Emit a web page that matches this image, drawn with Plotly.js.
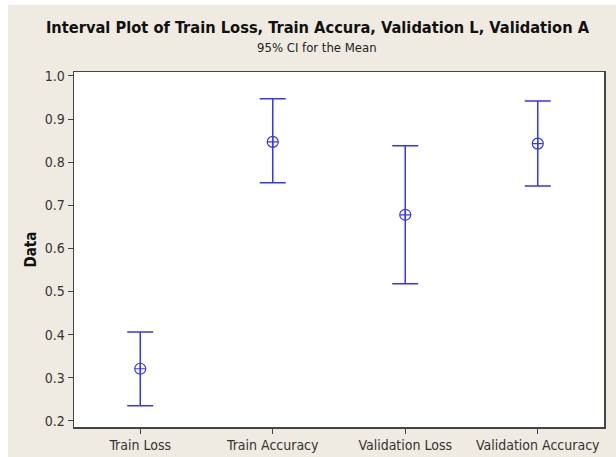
<!DOCTYPE html>
<html>
<head>
<meta charset="utf-8">
<script src="https://cdn.plot.ly/plotly-3.0.1.min.js"></script>
<style>
html,body{margin:0;padding:0;background:#ffffff;}
#chart{position:absolute;left:8px;top:5px;width:608px;height:452px;}
</style>
</head>
<body>
<div id="chart"></div>
<script>
const categories = ["Train Loss", "Train Accuracy", "Validation Loss", "Validation Accuracy"];
const means = [0.321, 0.847, 0.678, 0.843];
const upper = [0.406, 0.947, 0.838, 0.942];
const lower = [0.235, 0.752, 0.518, 0.745];
const yTicks = [0.2, 0.3, 0.4, 0.5, 0.6, 0.7, 0.8, 0.9, 1.0];
const yTickLabels = ["0.2", "0.3", "0.4", "0.5", "0.6", "0.7", "0.8", "0.9", "1.0"];

const blue = "#3434ff";
const trace = {
  x: categories.map((c, i) => i),
  y: means,
  type: "scatter",
  mode: "markers",
  marker: {symbol: "circle-cross-open", size: 11, color: blue, line: {width: 1.2, color: blue}},
  error_y: {
    type: "data",
    symmetric: false,
    array: upper.map((u, i) => u - means[i]),
    arrayminus: lower.map((l, i) => means[i] - l),
    color: blue,
    thickness: 1.5,
    width: 13
  },
  hoverinfo: "skip"
};

const layout = {
  width: 608,
  height: 452,
  paper_bgcolor: "#efebe2",
  plot_bgcolor: "#ffffff",
  margin: {l: 66, r: 12, t: 67, b: 30},
  showlegend: false,
  font: {family: "DejaVu Sans Condensed, sans-serif", color: "#333333"},
  title: {
    text: "<b>Interval Plot of Train Loss, Train Accura, Validation L, Validation A</b>",
    font: {family: "DejaVu Sans Condensed, sans-serif", size: 16.3, color: "#111111"},
    x: 0.509, xanchor: "center", xref: "container",
    y: 1, yref: "container", yanchor: "top", pad: {t: 17}
  },
  annotations: [{
    text: "95% CI for the Mean",
    xref: "paper", yref: "paper", x: 0.458, y: 1, yshift: 25,
    xanchor: "center", yanchor: "middle", showarrow: false,
    font: {family: "DejaVu Sans Condensed, sans-serif", size: 13, color: "#222222"}
  }],
  xaxis: {
    range: [-0.5, 3.5],
    tickmode: "array",
    tickvals: categories.map((c, i) => i),
    ticktext: categories,
    showline: true, linecolor: "#444444", linewidth: 1.5, mirror: true,
    ticks: "outside", ticklen: 5, tickcolor: "#444444",
    showgrid: false, zeroline: false,
    tickfont: {size: 14, color: "#333333"}
  },
  yaxis: {
    range: [0.186, 1.009],
    tickmode: "array",
    tickvals: yTicks,
    ticktext: yTickLabels,
    showline: true, linecolor: "#444444", linewidth: 1.5, mirror: true,
    ticks: "outside", ticklen: 5, tickcolor: "#444444",
    showgrid: false, zeroline: false,
    tickfont: {size: 14, color: "#333333"},
    title: {text: "<b>Data</b>", font: {size: 15, color: "#111111"}, standoff: 4}
  }
};

Plotly.newPlot("chart", [trace], layout, {displayModeBar: false, staticPlot: true});
</script>
</body>
</html>
